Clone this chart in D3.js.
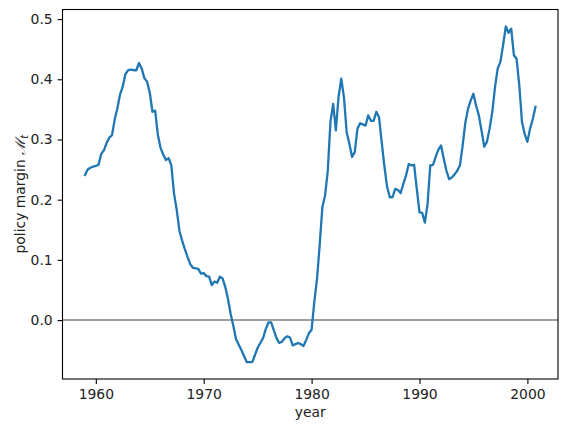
<!DOCTYPE html>
<html>
<head>
<meta charset="utf-8">
<script src="https://cdn.jsdelivr.net/npm/d3@7"></script>
<style>
	body { margin: 0; background: #fff; }
	svg { font-family: "DejaVu Sans", sans-serif; }
</style>
</head>
<body>
<div id="chart"></div>
<script>
// quarterly policy margin, 1959Q1 .. 2000Q4
var startYear = 1959;
var margins = [
	0.241, 0.250, 0.253, 0.255,   // 1959
	0.256, 0.258, 0.276, 0.282,   // 1960
	0.294, 0.303, 0.307, 0.333,   // 1961
	0.352, 0.375, 0.388, 0.409,   // 1962
	0.415, 0.416, 0.415, 0.415,   // 1963
	0.427, 0.418, 0.402, 0.396,   // 1964
	0.378, 0.346, 0.348, 0.308,   // 1965
	0.286, 0.275, 0.266, 0.269,   // 1966
	0.257, 0.210, 0.183, 0.148,   // 1967
	0.132, 0.118, 0.105, 0.093,   // 1968
	0.087, 0.086, 0.085, 0.077,   // 1969
	0.078, 0.073, 0.072, 0.058,   // 1970
	0.064, 0.062, 0.072, 0.069,   // 1971
	0.055, 0.035, 0.010, -0.010,  // 1972
	-0.032, -0.041, -0.050, -0.060, // 1973
	-0.070, -0.070, -0.070, -0.058, // 1974
	-0.046, -0.038, -0.030, -0.015, // 1975
	-0.004, -0.004, -0.017, -0.030, // 1976
	-0.038, -0.036, -0.030, -0.027, // 1977
	-0.029, -0.042, -0.040, -0.038, // 1978
	-0.040, -0.043, -0.033, -0.022, // 1979
	-0.016, 0.030, 0.068, 0.125,  // 1980
	0.188, 0.207, 0.248, 0.330,   // 1981
	0.359, 0.315, 0.371, 0.401,   // 1982
	0.370, 0.312, 0.293, 0.271,   // 1983
	0.279, 0.318, 0.327, 0.325,   // 1984
	0.323, 0.340, 0.331, 0.331,   // 1985
	0.346, 0.337, 0.295, 0.255,   // 1986
	0.221, 0.204, 0.204, 0.218,   // 1987
	0.216, 0.211, 0.226, 0.240,   // 1988
	0.259, 0.257, 0.258, 0.218,   // 1989
	0.179, 0.178, 0.162, 0.193,   // 1990
	0.257, 0.258, 0.271, 0.283,   // 1991
	0.290, 0.268, 0.248, 0.234,   // 1992
	0.237, 0.242, 0.248, 0.257,   // 1993
	0.290, 0.328, 0.351, 0.365,   // 1994
	0.376, 0.356, 0.340, 0.315,   // 1995
	0.288, 0.296, 0.318, 0.346,   // 1996
	0.387, 0.418, 0.429, 0.457,   // 1997
	0.488, 0.477, 0.484, 0.440,   // 1998
	0.434, 0.390, 0.329, 0.309,   // 1999
	0.296, 0.318, 0.334, 0.354    // 2000
];
var xTicks = [1960, 1970, 1980, 1990, 2000];
var yTicks = [0.0, 0.1, 0.2, 0.3, 0.4, 0.5];

var data = margins.map(function(v, i){ return { year: startYear + i / 4, m: v }; });

var W = 567, H = 432;
var axL = 62.5, axR = 558, axT = 9.5, axB = 379;
var fs = 13.9, tick = 4.9;

// matplotlib style 5% autoscale margins
function padded(ext){
	var s = ext[1] - ext[0];
	return [ext[0] - 0.05 * s, ext[1] + 0.05 * s];
}

var x = d3.scaleLinear()
	.domain(padded(d3.extent(data, function(d){ return d.year; })))
	.range([axL, axR]);

var y = d3.scaleLinear()
	.domain(padded(d3.extent(data, function(d){ return d.m; })))
	.range([axB, axT]);

var svg = d3.select("#chart").append("svg")
	.attr("width", W).attr("height", H);

// zero line
svg.append("line")
	.attr("x1", axL).attr("x2", axR)
	.attr("y1", y(0)).attr("y2", y(0))
	.attr("stroke", "#808080").attr("stroke-width", 1.4);

var line = d3.line()
	.x(function(d){ return x(d.year); })
	.y(function(d){ return y(d.m); });

svg.append("path")
	.datum(data)
	.attr("d", line)
	.attr("fill", "none")
	.attr("stroke", "#1f77b4")
	.attr("stroke-width", 2.3)
	.attr("stroke-linejoin", "round")
	.attr("stroke-linecap", "square");

var xAxis = d3.axisBottom(x).tickValues(xTicks).tickFormat(d3.format("d"))
	.tickSizeInner(tick).tickSizeOuter(0).tickPadding(tick);
var yAxis = d3.axisLeft(y).tickValues(yTicks).tickFormat(d3.format(".1f"))
	.tickSizeInner(tick).tickSizeOuter(0).tickPadding(tick);

var gx = svg.append("g")
	.attr("transform", "translate(0," + axB + ")")
	.call(xAxis);
var gy = svg.append("g")
	.attr("transform", "translate(" + axL + ",0)")
	.call(yAxis);

[gx, gy].forEach(function(g){
	g.select(".domain").remove();
	g.selectAll("line").attr("stroke", "#000").attr("stroke-width", 1.1);
	g.selectAll("text").attr("fill", "#222").style("font-size", fs + "px")
		.style("font-family", "DejaVu Sans, sans-serif");
});

// spines
svg.append("rect")
	.attr("x", axL).attr("y", axT)
	.attr("width", axR - axL).attr("height", axB - axT)
	.attr("fill", "none").attr("stroke", "#000").attr("stroke-width", 1.1);

svg.append("text")
	.attr("x", (axL + axR) / 2).attr("y", 417)
	.attr("text-anchor", "middle")
	.style("font-size", fs + "px").attr("fill", "#222")
	.text("year");

var yl = svg.append("text")
	.attr("transform", "translate(25," + ((axT + axB) / 2) + ") rotate(-90)")
	.attr("text-anchor", "middle")
	.style("font-size", fs + "px").attr("fill", "#222");
yl.append("tspan").text("policy margin ");
yl.append("tspan").style("font-family", "DejaVu Serif, serif").style("font-style", "italic").text("\u2133");
yl.append("tspan").attr("dy", 2.5).style("font-size", "9.7px").style("font-style", "italic").text("t");
</script>
</body>
</html>
